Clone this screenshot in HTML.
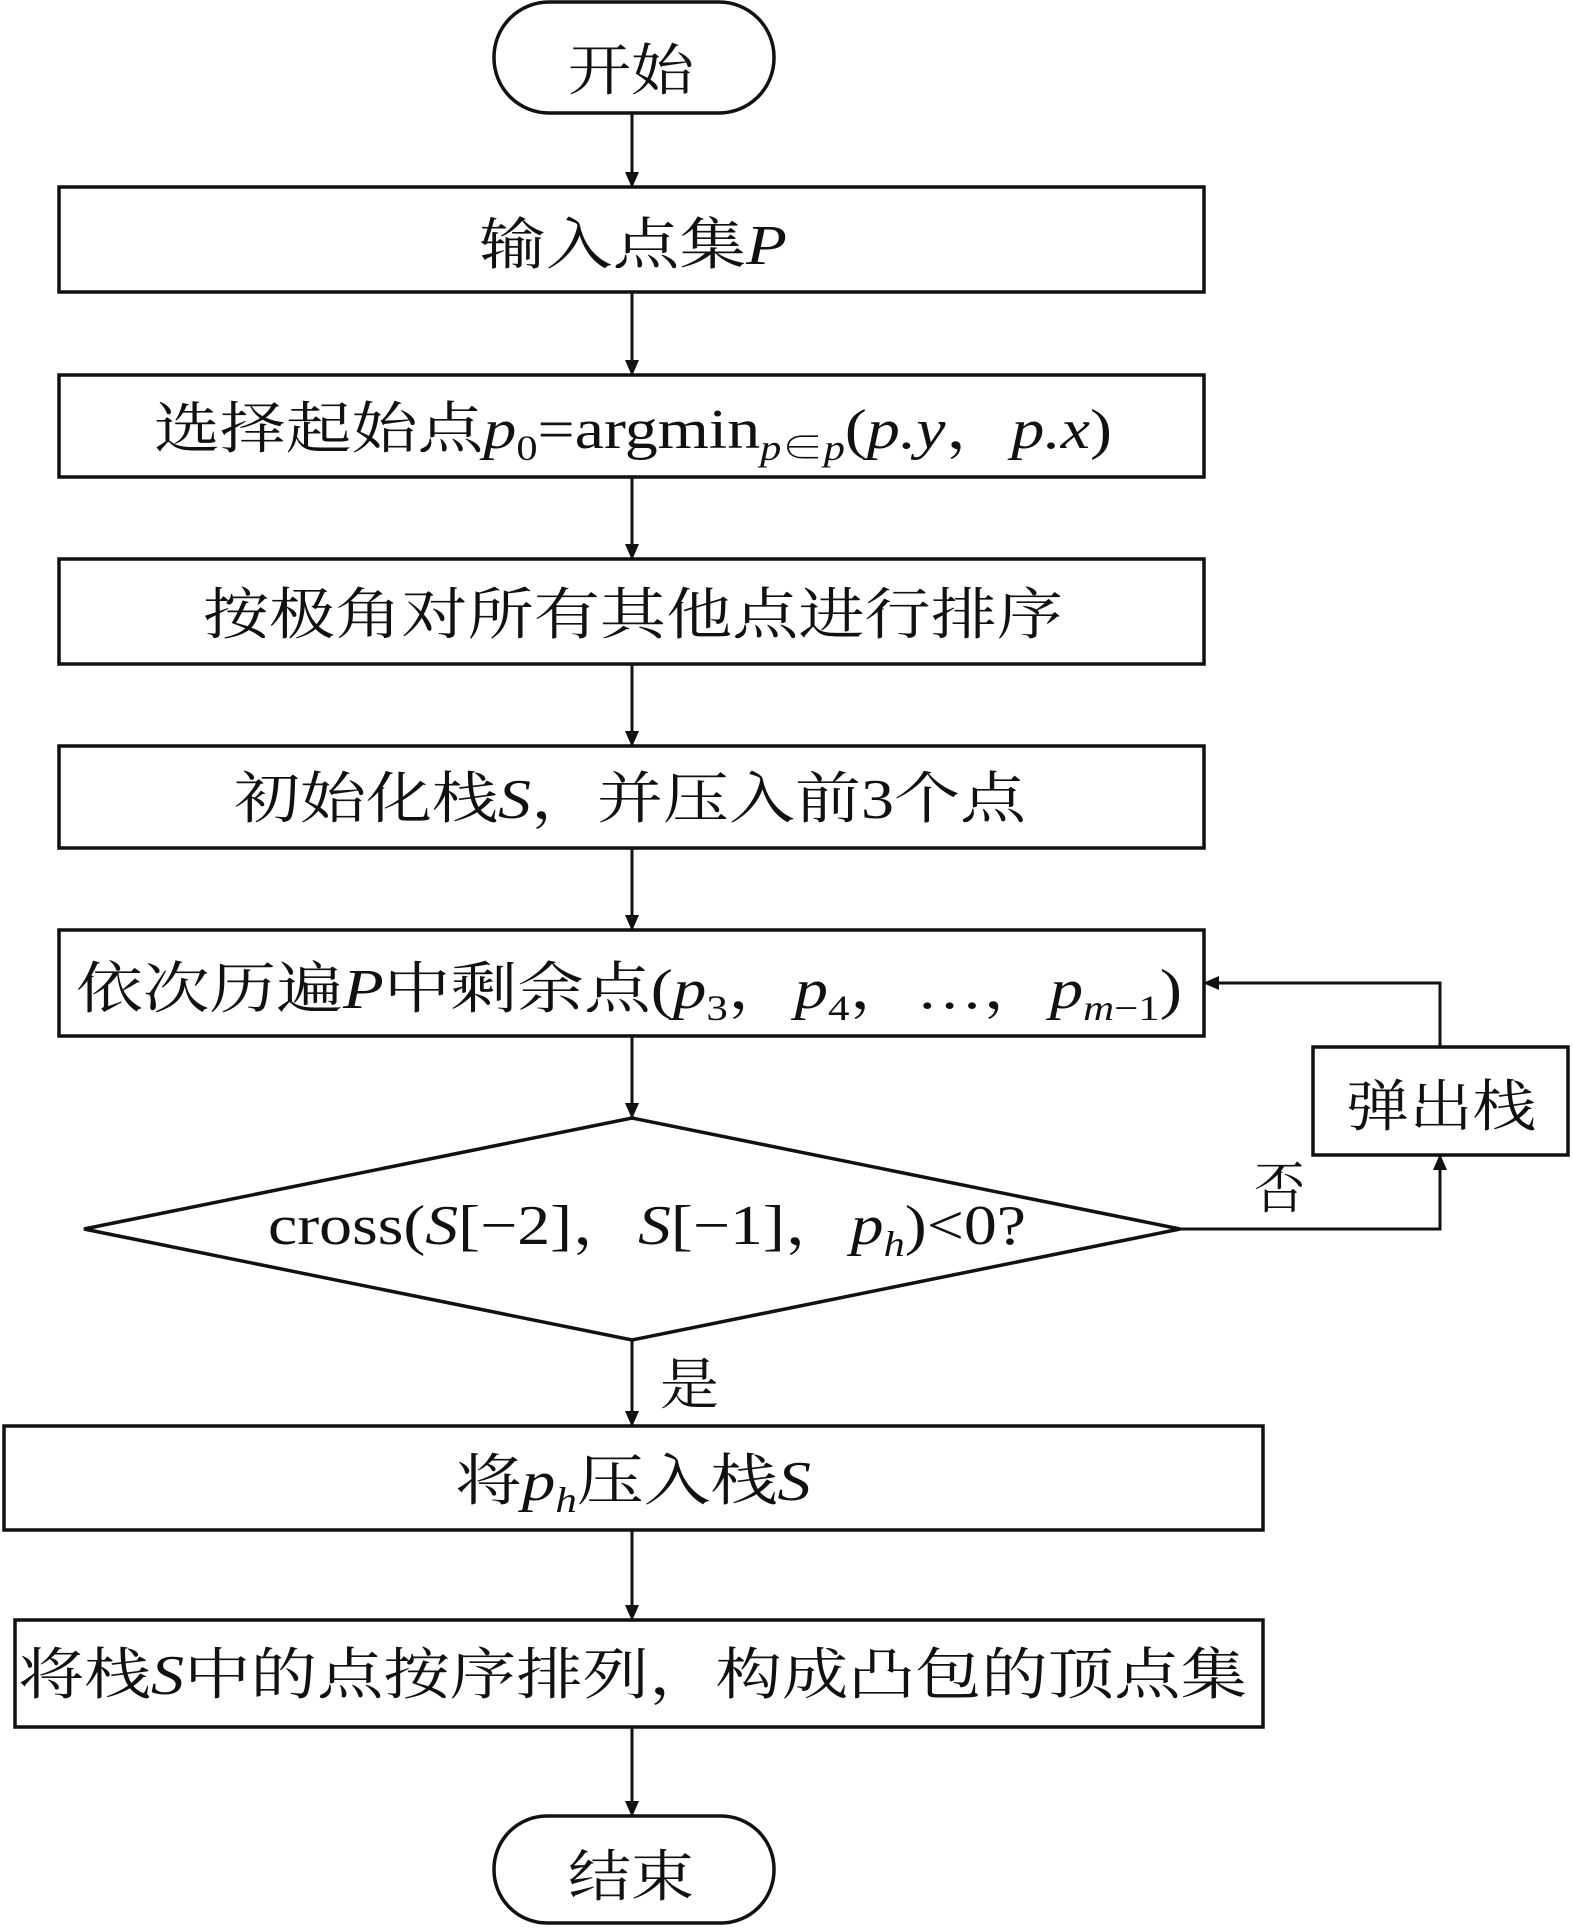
<!DOCTYPE html>
<html><head><meta charset="utf-8"><style>
html,body{margin:0;padding:0;background:#fff;}
svg{display:block;}
text{font-family:"Liberation Serif","Noto Serif CJK SC",serif;font-size:56px;fill:#111;}
.i{font-style:italic;}
.s{font-size:36px;}
</style></head><body>
<svg width="1573" height="1930" viewBox="0 0 1573 1930" xmlns="http://www.w3.org/2000/svg">
<defs><marker id="a" markerWidth="16" markerHeight="14" refX="15" refY="7" orient="auto" markerUnits="userSpaceOnUse"><path d="M0,0 L16,7 L0,14 Z" fill="#111"/></marker></defs>
<g fill="none" stroke="#111" stroke-width="3.5">
<rect x="494" y="2" width="280" height="111" rx="55"/>
<rect x="59" y="187" width="1145" height="105"/>
<rect x="59" y="375" width="1145" height="102"/>
<rect x="59" y="559" width="1145" height="105"/>
<rect x="59" y="746" width="1145" height="102"/>
<rect x="59" y="930" width="1145" height="106"/>
<polygon points="632,1118 1180,1229 632,1340 84,1229"/>
<rect x="1313" y="1047" width="255" height="108"/>
<rect x="4" y="1426" width="1259" height="104"/>
<rect x="15" y="1620" width="1248" height="107"/>
<rect x="494" y="1816" width="280" height="107" rx="53"/>
</g>
<g stroke="#111" stroke-width="3" fill="none" marker-end="url(#a)">
<line x1="632" y1="113" x2="632" y2="187"/>
<line x1="632" y1="292" x2="632" y2="375"/>
<line x1="632" y1="477" x2="632" y2="559"/>
<line x1="632" y1="664" x2="632" y2="746"/>
<line x1="632" y1="848" x2="632" y2="930"/>
<line x1="632" y1="1036" x2="632" y2="1118"/>
<line x1="632" y1="1340" x2="632" y2="1426"/>
<line x1="632" y1="1530" x2="632" y2="1620"/>
<line x1="632" y1="1727" x2="632" y2="1816"/>
<polyline points="1180,1229 1440,1229 1440,1155"/>
<polyline points="1440,1047 1440,983 1204,983"/>
</g>
<text x="568" y="90" textLength="126" lengthAdjust="spacingAndGlyphs">开始</text>
<text x="479" y="264" textLength="308" lengthAdjust="spacingAndGlyphs">输入点集<tspan class="i">P</tspan></text>
<text x="154" y="448" textLength="958" lengthAdjust="spacingAndGlyphs">选择起始点<tspan class="i">p</tspan><tspan class="s" dy="12">0</tspan><tspan dy="-12">=argmin</tspan><tspan class="s i" dy="12">p</tspan><tspan class="s">∈</tspan><tspan class="s i">p</tspan><tspan dy="-12">(</tspan><tspan class="i">p.y</tspan>，<tspan class="i">p.x</tspan>)</text>
<text x="203" y="634" textLength="860" lengthAdjust="spacingAndGlyphs">按极角对所有其他点进行排序</text>
<text x="234" y="818" textLength="792" lengthAdjust="spacingAndGlyphs">初始化栈<tspan class="i">S</tspan>，并压入前3个点</text>
<text x="76" y="1008" textLength="1106" lengthAdjust="spacingAndGlyphs">依次历遍<tspan class="i">P</tspan>中剩余点(<tspan class="i">p</tspan><tspan class="s" dy="12">3</tspan><tspan dy="-12">，</tspan><tspan class="i">p</tspan><tspan class="s" dy="12">4</tspan><tspan dy="-12">，…，</tspan><tspan class="i">p</tspan><tspan class="s" dy="12"><tspan class="i">m</tspan>−1</tspan><tspan dy="-12">)</tspan></text>
<text x="268" y="1244" textLength="758" lengthAdjust="spacingAndGlyphs">cross(<tspan class="i">S</tspan>[−2]，<tspan class="i">S</tspan>[−1]，<tspan class="i">p</tspan><tspan class="s i" dy="12">h</tspan><tspan dy="-12">)&lt;0?</tspan></text>
<text x="1346" y="1126" textLength="190" lengthAdjust="spacingAndGlyphs">弹出栈</text>
<text x="1254" y="1208" textLength="51" lengthAdjust="spacingAndGlyphs">否</text>
<text x="660" y="1404" textLength="59" lengthAdjust="spacingAndGlyphs">是</text>
<text x="455" y="1500" textLength="356" lengthAdjust="spacingAndGlyphs">将<tspan class="i">p</tspan><tspan class="s i" dy="12">h</tspan><tspan dy="-12">压入栈</tspan><tspan class="i">S</tspan></text>
<text x="18" y="1694" textLength="1229" lengthAdjust="spacingAndGlyphs">将栈<tspan class="i">S</tspan>中的点按序排列，构成凸包的顶点集</text>
<text x="568" y="1896" textLength="126" lengthAdjust="spacingAndGlyphs">结束</text>
</svg>
</body></html>
